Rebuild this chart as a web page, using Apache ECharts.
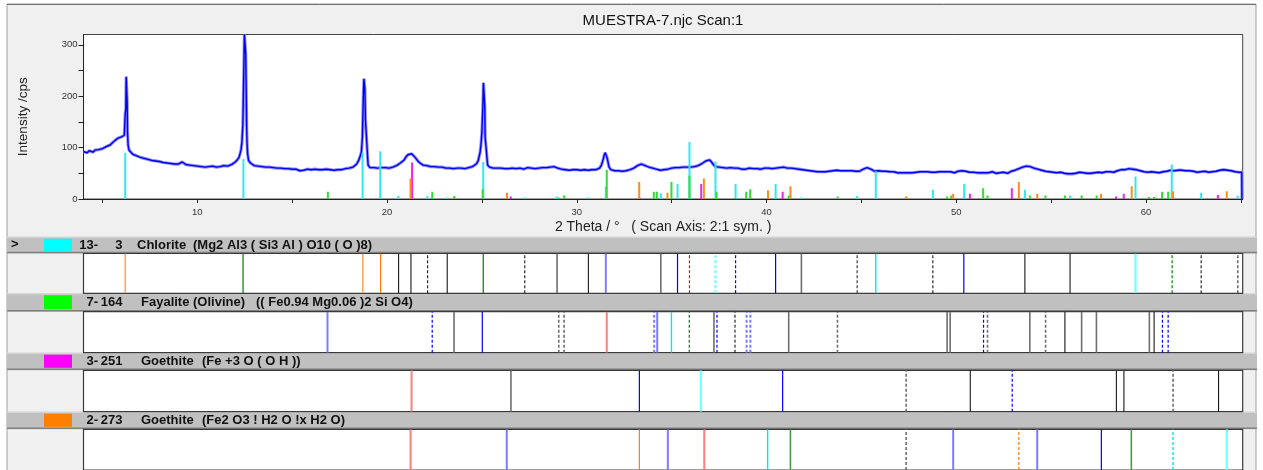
<!DOCTYPE html>
<html><head><meta charset="utf-8">
<script src="https://cdn.jsdelivr.net/npm/echarts@6/dist/echarts.min.js"></script>
<style>html,body{margin:0;padding:0;background:#fff}#c{width:1263px;height:470px}</style>
</head><body><div id="c"></div>
<script>
// ---------- DATA ----------
const chartTitle = 'MUESTRA-7.njc Scan:1';
const xAxisTitle = '2 Theta / \u00b0   ( Scan Axis: 2:1 sym. )';
const yAxisTitle = 'Intensity /cps';
const xTickValues = [5,10,15,20,25,30,35,40,45,50,55,60,65];
const xLabelValues = [10,20,30,40,50,60];
const yTickValues = [0,50,100,150,200,250,300];
const yLabelValues = [0,100,200,300];

// scan: counts on a 0.1 deg grid from 4.0 to 65.0
const scanStart = 4.0, scanStep = 0.1;
const scanCounts = [
 92,95,90,94,96,91,95,92,96,93,
 98,100,102,104,105,108,112,114,118,120,
 121,124,166,190,95,91,87,87,84,84,
 81,81,79,79,77,77,75,76,74,75,
 73,74,71,73,70,72,69,71,68,70,
 68,69,72,70,67,68,66,67,65,66,
 64,66,63,65,62,65,63,62,64,65,
 62,65,63,62,65,62,64,66,67,69,
 72,76,81,95,145,310,140,75,70,67,
 65,63,64,62,63,61,62,60,62,60,
 61,59,60,58,60,58,59,57,59,58,
 58,56,58,57,55,58,56,55,58,56,
 57,55,58,56,57,55,57,55,58,56,
 57,58,56,58,57,59,57,58,59,58,
 60,59,62,64,68,75,85,120,236,154,
 66,61,59,61,58,60,58,61,59,61,
 62,60,63,62,64,65,66,70,73,76,
 82,86,89,88,85,80,75,71,68,66,
 64,65,62,63,61,63,61,62,60,62,
 61,60,62,60,61,59,61,60,62,60,
 61,59,62,61,63,63,66,68,74,90,
 130,225,108,66,62,63,60,62,60,61,
 60,62,59,61,59,62,60,61,59,61,
 60,61,58,60,61,59,60,61,59,58,
 60,58,61,59,61,62,62,64,63,61,
 60,57,58,56,57,55,56,55,57,55,
 57,55,56,54,57,55,56,54,57,56,
 57,58,60,66,78,90,80,62,57,55,
 55,53,55,53,54,52,55,54,57,58,
 60,62,65,67,68,67,65,63,62,60,
 60,57,58,55,56,55,57,56,58,58,
 60,58,61,59,61,60,62,60,62,61,
 62,63,63,64,65,67,69,72,74,77,
 76,72,67,63,61,62,59,61,59,60,
 59,61,58,60,58,60,60,58,60,58,
 59,60,58,59,61,59,60,58,59,60,
 59,60,61,59,61,60,62,61,60,62,
 62,60,61,60,61,59,60,58,59,57,
 57,56,57,55,56,54,55,53,54,53,
 55,53,56,54,56,55,54,56,54,55,
 53,55,52,55,54,55,56,54,56,54,
 56,58,59,61,60,58,56,54,54,55,
 53,54,52,54,52,53,51,53,52,51,
 53,51,53,51,53,51,53,51,53,52,
 51,53,51,53,51,53,51,52,50,52,
 52,53,51,53,51,53,51,53,52,51,
 53,54,51,55,52,54,55,52,54,52,
 53,51,54,51,53,51,53,51,50,53,
 51,50,53,51,51,52,53,50,52,54,
 55,56,58,59,61,62,63,64,62,63,
 61,60,59,58,57,56,56,54,55,53,
 54,52,54,51,53,52,51,50,52,49,
 51,49,51,50,51,52,49,51,52,50,
 52,50,53,51,50,52,53,51,50,53,
 52,53,54,52,55,55,56,57,58,57,
 58,59,60,58,57,57,56,55,55,53,
 54,52,52,53,51,52,53,51,53,53,
 53,54,55,56,55,55,57,56,55,56,
 56,55,54,55,53,54,55,52,54,53,
 53,54,52,52,54,53,55,54,55,56,
 56,57,58,56,55,55,54,53,54,52,
 52
];
// extra scan points read across the sharp peaks and the end of the scan
const peakPoints = [
 [6.15,124],[6.23,175],[6.25,238],[6.28,240],[6.32,130],[6.35,105],
 [12.35,110],[12.45,250],[12.48,320],[12.55,282],[12.58,200],[12.62,110],[12.65,88],
 [18.65,92],[18.75,200],[18.78,234],[18.83,215],[18.86,155],[18.93,110],
 [24.95,105],[25.05,180],[25.08,226],[25.12,227],[25.15,180],[25.17,120],
 [31.45,86],[31.55,88],
 [65.05,52],[65.06,0]
];

// reference pattern sticks in the scan plot: [2theta, cps]
const chloriteSticks = [[6.20,90],[12.43,78],[18.71,90],[19.64,93],[20.59,6],[21.26,4],[22.12,6],[23.17,3],[25.07,72],[27.26,3],[28.94,5],[30.61,3],[31.53,24],[34.43,11],[35.31,29],[35.94,111],[37.31,73],[38.37,29],[40.48,29],[41.84,3],[44.78,6],[45.76,54],[48.77,18],[50.42,29],[53.62,18],[56.00,7],[59.45,44],[61.36,67],[62.91,12],[64.83,7]];
const fayaliteSticks = [[16.88,14],[22.38,14],[23.54,6],[25.04,19],[29.05,3],[29.33,7],[31.58,57],[34.06,14],[34.22,14],[34.99,33],[35.94,45],[37.23,2],[37.37,14],[38.34,2],[38.93,14],[39.14,19],[41.17,7],[43.75,5],[49.52,5],[49.74,7],[51.42,21],[51.65,7],[53.88,7],[54.70,7],[55.73,7],[56.61,7],[57.40,7],[60.16,4],[60.43,4],[60.85,14],[61.17,14]];
const goethiteSticks = [[21.32,71],[26.52,5],[33.30,3],[36.56,29],[40.85,14],[47.36,2],[50.72,10],[52.93,21],[58.42,5],[58.83,10],[61.43,3],[63.79,8]];
const goethite2Sticks = [[21.24,40],[26.32,12],[33.29,33],[34.78,12],[36.70,40],[40.08,17],[41.26,25],[47.36,5],[49.84,10],[53.30,33],[54.27,10],[57.63,10],[59.25,25],[61.43,15],[64.26,15]];

// stick-pattern panels: line positions and match-kind codes (':' = dashed)
const chloriteLines = [6.20,12.41,18.72,19.66,20.61,21.26,22.14,23.17,25.07,27.26,28.96,30.61,31.53,34.43,35.31,35.94,37.31,38.37,40.48,41.84,44.78,45.76,48.77,50.40,53.62,56.00,59.45,61.38,62.91,64.84];
const chloriteKinds = ['O','G','O','o','k','k','k:','k','G','k:','g','k','B','g','b','r:','C:','b:','b','g','g:','c','k:','b','k','k','C','G:','k:','g:'];
const fayaliteLines = [16.86,22.38,23.53,25.02,29.05,29.33,31.58,34.08,34.24,34.99,35.93,37.23,37.39,38.34,38.95,39.15,41.17,43.74,49.52,49.68,51.44,51.65,53.88,54.71,55.73,56.61,57.39,60.18,60.43,60.87,61.17];
const fayaliteKinds = ['B','b:','g','b','g:','g:','R','B:','B','c','G:','g','b:','k:','B:','B:','g','g:','g','g','b:','g:','g','g:','k','g','g','g','k','b:','b:'];
const goethiteLines = [21.29,26.53,33.30,36.54,40.85,47.36,50.74,52.95,58.44,58.84,61.43,63.83];
const goethiteKinds = ['R','g','b','C','b','g:','k','b:','k','k','g:','k'];
const goethite2Lines = [21.24,26.31,33.30,34.80,36.72,40.06,41.26,47.36,49.84,53.30,54.27,57.65,59.23,61.43,64.26];
const goethite2Kinds = ['R','B','o','B','R','c','L','g:','B','o:','B','b','L','c:','C'];

const phaseCodes = ['13-','7-','3-','2-'];
const phaseNumbers = ['3','164','251','273'];
const phaseNames = ['Chlorite','Fayalite (Olivine)','Goethite','Goethite'];
const phaseFormulas = ['(Mg2 Al3 ( Si3 Al ) O10 ( O )8)','(( Fe0.94 Mg0.06 )2 Si O4)','(Fe +3 O ( O H ))','(Fe2 O3 ! H2 O !x H2 O)'];

// ---------- STYLE / LAYOUT ----------
const phaseColors = ['#00ffff','#00ff00','#ff00ff','#ff8000'];
const stickColors = ['#30e8f0','#30dd30','#ee22ee','#ff8c1a'];
const KIND = {
  k:{c:'#000000',w:1}, g:{c:'#6e6e6e',w:1.6}, b:{c:'#0000ff',w:1.2}, B:{c:'#7c7cff',w:2},
  r:{c:'#ff0000',w:1.2}, R:{c:'#ff7f7f',w:2}, o:{c:'#ff8000',w:1.2}, O:{c:'#ffa860',w:1.6},
  c:{c:'#00e8e8',w:1.4}, C:{c:'#70ffff',w:2.2}, G:{c:'#008000',w:1.2}, L:{c:'#40a040',w:1.6}
};
const FONT = '"Liberation Sans", Arial, sans-serif';
const plotL = 83.5, plotW = 1159.2;
const mainTop = 34.5, mainH = 164.5;
const panelTops = [253.5, 311.7, 370.3, 429.3];
const panelHs = [39.8, 41, 41.4, 45];
const headTops = [236.7, 293.3, 352.7, 411.7];
const nameX = [137, 141, 141, 141];
const formulaX = [193, 256, 202, 202];
const X_MIN = 4, X_MAX = 65.1;

const scanPoints = scanCounts.map((c, i) => [+(scanStart + i * scanStep).toFixed(2), c])
  .concat(peakPoints).sort((a, b) => a[0] - b[0]);

const chart = echarts.init(document.getElementById('c'), null, {renderer: 'canvas'});

function stickSeries(data, color) {
  return {
    type: 'custom', xAxisIndex: 0, yAxisIndex: 0, z: 3, silent: true, clip: true,
    data: data, encode: {x: 0, y: 1},
    renderItem: function (params, api) {
      const a = api.coord([api.value(0), 0]);
      const b = api.coord([api.value(0), api.value(1)]);
      return {type: 'line', shape: {x1: a[0], y1: a[1], x2: b[0], y2: b[1]},
        style: {stroke: color, lineWidth: 2}};
    }
  };
}
function panelSeries(idx, pos, kinds) {
  return {
    type: 'custom', xAxisIndex: idx, yAxisIndex: idx, z: 3, silent: true, clip: true,
    data: pos.map(v => [v, 1]), encode: {x: 0, y: 1},
    renderItem: function (params, api) {
      const k = kinds[params.dataIndex];
      const st = KIND[k[0]];
      const a = api.coord([api.value(0), 0]);
      const b = api.coord([api.value(0), 1]);
      return {type: 'line', shape: {x1: a[0], y1: a[1], x2: b[0], y2: b[1]},
        style: {stroke: st.c, lineWidth: st.w, lineDash: k.length > 1 ? [3, 2] : null}};
    }
  };
}

const grids = [{left: plotL, top: mainTop, width: plotW, height: mainH, show: true,
  backgroundColor: '#ffffff', borderColor: '#444', borderWidth: 1}];
const xAxes = [{
  type: 'value', gridIndex: 0, min: X_MIN, max: X_MAX, position: 'bottom',
  axisLine: {show: true, lineStyle: {color: '#222', width: 1}},
  axisTick: {show: true, inside: false, length: 4, lineStyle: {color: '#222'}, customValues: xTickValues},
  axisLabel: {customValues: xLabelValues, fontSize: 9.5, color: '#333', margin: 8, fontFamily: FONT},
  splitLine: {show: false},
  name: xAxisTitle, nameLocation: 'middle', nameGap: 21,
  nameTextStyle: {fontSize: 14, color: '#222', fontFamily: FONT}
}];
const yAxes = [{
  type: 'value', gridIndex: 0, min: 0, max: 320,
  axisLine: {show: true, lineStyle: {color: '#222', width: 1}},
  axisTick: {show: true, inside: false, length: 5, lineStyle: {color: '#222'}, customValues: yTickValues},
  axisLabel: {customValues: yLabelValues, fontSize: 9.5, color: '#333', margin: 6, fontFamily: FONT},
  splitLine: {show: false},
  name: yAxisTitle, nameLocation: 'middle', nameRotate: 90, nameGap: 53,
  nameTextStyle: {fontSize: 13.5, color: '#222', fontFamily: FONT}
}];
for (let i = 0; i < 4; i++) {
  grids.push({left: plotL, top: panelTops[i], width: plotW, height: panelHs[i], show: true,
    backgroundColor: '#ffffff', borderColor: '#3a3a3a', borderWidth: 1.2});
  xAxes.push({type: 'value', gridIndex: i + 1, min: X_MIN, max: X_MAX, show: false});
  yAxes.push({type: 'value', gridIndex: i + 1, min: 0, max: 1, show: false});
}

const graphics = [
  {type: 'rect', z: -10, silent: true, shape: {x: 7, y: 4, width: 1249, height: 470},
    style: {fill: '#f0f0f0', stroke: '#a0a0a0', lineWidth: 1}},
  {type: 'line', z: -9, silent: true, shape: {x1: 7, y1: 4.5, x2: 1256, y2: 4.5},
    style: {stroke: '#707070', lineWidth: 1}},
  {type: 'text', silent: true, x: 663, y: 21,
    style: {text: chartTitle, font: '15px ' + FONT, fill: '#111', textAlign: 'center', align: 'center',
      textVerticalAlign: 'middle', verticalAlign: 'middle'}}
];
for (let i = 0; i < 4; i++) {
  const t = headTops[i], h = (panelTops[i] - headTops[i]), cy = t + h / 2;
  graphics.push({type: 'rect', z: -5, silent: true, shape: {x: 7, y: t, width: 1250, height: h},
    style: {fill: '#c0c0c0'}});
  graphics.push({type: 'line', z: -4, silent: true, shape: {x1: 7, y1: t + 0.5, x2: 1257, y2: t + 0.5},
    style: {stroke: '#dcdcdc', lineWidth: 1}});
  graphics.push({type: 'line', z: -4, silent: true, shape: {x1: 7, y1: t + h - 1, x2: 1257, y2: t + h - 1},
    style: {stroke: '#808080', lineWidth: 1.5}});
  graphics.push({type: 'rect', silent: true, shape: {x: 44, y: t + 2, width: 28, height: h - 4.5},
    style: {fill: phaseColors[i]}});
  const txt = (s, x, al) => ({type: 'text', silent: true, x: x, y: cy,
    style: {text: s, font: 'bold 13px ' + FONT, fill: '#111', textAlign: al, align: al,
      textVerticalAlign: 'middle', verticalAlign: 'middle'}});
  graphics.push(txt(phaseCodes[i], 98, 'right'));
  graphics.push(txt(phaseNumbers[i], 122.5, 'right'));
  graphics.push(txt(phaseNames[i], nameX[i], 'left'));
  graphics.push(txt(phaseFormulas[i], formulaX[i], 'left'));
}
graphics.push({type: 'text', silent: true, x: 11, y: headTops[0] + 8,
  style: {text: '>', font: 'bold 13px ' + FONT, fill: '#111', textAlign: 'left', align: 'left',
    textVerticalAlign: 'middle', verticalAlign: 'middle'}});

const series = [
  {type: 'line', xAxisIndex: 0, yAxisIndex: 0, data: scanPoints, showSymbol: false, symbol: 'none',
    silent: true, z: 1, animation: false, clip: true,
    lineStyle: {color: '#9090ff', width: 3.2}},
  {type: 'line', xAxisIndex: 0, yAxisIndex: 0, data: scanPoints, showSymbol: false, symbol: 'none',
    silent: true, z: 2, animation: false, clip: true,
    lineStyle: {color: '#0000ee', width: 1.4}},
  stickSeries(chloriteSticks, stickColors[0]),
  stickSeries(fayaliteSticks, stickColors[1]),
  stickSeries(goethiteSticks, stickColors[2]),
  stickSeries(goethite2Sticks, stickColors[3]),
  panelSeries(1, chloriteLines, chloriteKinds),
  panelSeries(2, fayaliteLines, fayaliteKinds),
  panelSeries(3, goethiteLines, goethiteKinds),
  panelSeries(4, goethite2Lines, goethite2Kinds)
];

chart.setOption({
  animation: false,
  backgroundColor: '#ffffff',
  textStyle: {fontFamily: FONT},
  grid: grids, xAxis: xAxes, yAxis: yAxes,
  graphic: graphics,
  series: series
});
</script>
</body></html>
